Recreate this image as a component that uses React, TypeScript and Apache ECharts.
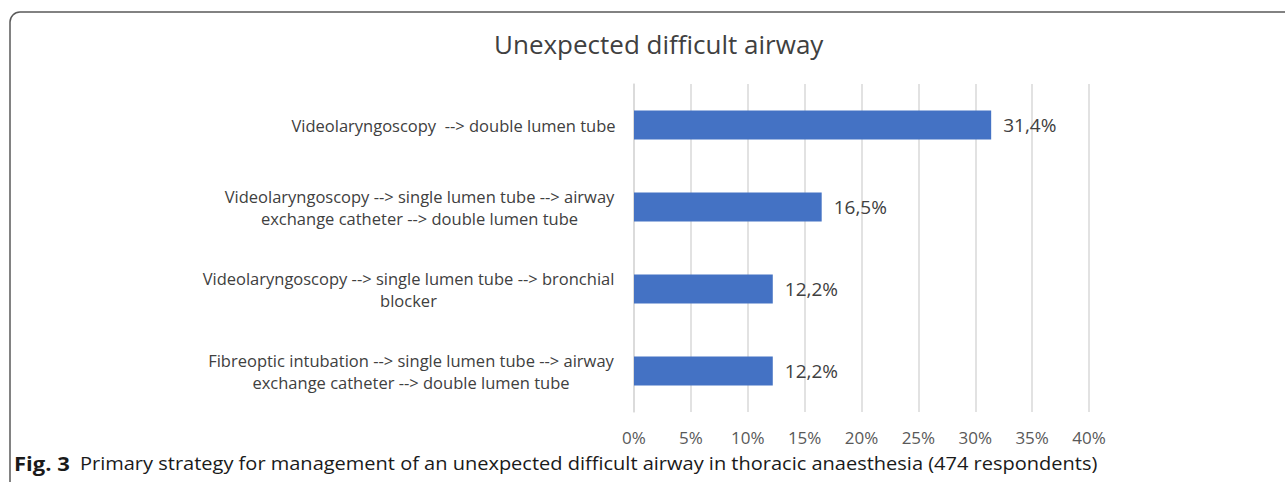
import React, { useEffect, useRef } from "react";
import * as echarts from "echarts";

const categories: string[][] = [
  ["Videolaryngoscopy  --> double lumen tube"],
  ["Videolaryngoscopy --> single lumen tube --> airway", "exchange catheter --> double lumen tube"],
  ["Videolaryngoscopy --> single lumen tube --> bronchial", "blocker"],
  ["Fibreoptic intubation --> single lumen tube --> airway", "exchange catheter --> double lumen tube"],
];
const values: number[] = [31.4, 16.5, 12.2, 12.2];
const labelWidths: number[] = [327, 395, 417, 412];
const titleText = "Unexpected difficult airway";
const captionBold = "Fig. 3";
const captionText = "Primary strategy for management of an unexpected difficult airway in thoracic anaesthesia (474 respondents)";

const FONT = "'Open Sans', 'Noto Sans', sans-serif";

export default function App() {
  const ref = useRef<HTMLDivElement>(null);
  useEffect(() => {
    if (!ref.current) return;
    const chart = echarts.init(ref.current, null, { renderer: "svg" });
    const rich: Record<string, any> = {};
    labelWidths.forEach((w, i) => {
      rich["c" + i] = { width: w, align: "center", fontSize: 16.5, color: "#404040", fontFamily: FONT, lineHeight: 22 };
    });
    chart.setOption({
      animation: false,
      backgroundColor: "#ffffff",
      title: {
        text: titleText,
        left: 489,
        top: 26,
        textStyle: { fontSize: 26, fontWeight: "normal", color: "#404040", fontFamily: FONT },
      },
      grid: { left: 634, right: 196, top: 84, bottom: 70, containLabel: false },
      xAxis: {
        type: "value",
        min: 0,
        max: 40,
        interval: 5,
        axisLine: { show: false },
        axisTick: { show: false },
        splitLine: { show: true, lineStyle: { color: "#d9d9d9", width: 1.5 } },
        axisLabel: {
          formatter: "{value}%",
          fontSize: 17,
          color: "#595959",
          fontFamily: FONT,
          margin: 17,
        },
      },
      yAxis: {
        type: "category",
        inverse: true,
        data: categories.map((c) => c.join("\n")),
        axisLine: { show: true, lineStyle: { color: "#d9d9d9", width: 1.5 } },
        axisTick: { show: false },
        axisLabel: {
          margin: 17,
          align: "right",
          formatter: (_v: string, i: number) =>
            categories[i].map((line) => "{c" + i + "|" + line + "}").join("\n"),
          rich,
        },
      },
      series: [
        {
          type: "bar",
          data: values,
          barWidth: 29,
          itemStyle: { color: "#4472C4" },
          label: {
            show: true,
            position: "right",
            distance: 12,
            fontSize: 19,
            color: "#404040",
            fontFamily: FONT,
            formatter: (p: any) => p.value.toFixed(1).replace(".", ",") + "%",
          },
        },
      ],
      graphic: [
        {
          type: "rect",
          shape: { x: 10, y: 12, width: 1300, height: 520, r: 10 },
          style: { fill: "none", stroke: "#5a5a5a", lineWidth: 1.5 },
          silent: true,
        },
        {
          type: "text",
          x: 14,
          y: 463,
          scaleX: 1.1,
          style: {
            text: captionBold,
            font: "bold 20px 'Open Sans', sans-serif",
            fill: "#1a1a1a",
            textVerticalAlign: "middle",
          },
        },
        {
          type: "text",
          x: 80,
          y: 463,
          scaleX: 1.112,
          style: {
            text: captionText,
            font: "18px 'Open Sans', sans-serif",
            fill: "#1a1a1a",
            textVerticalAlign: "middle",
          },
        },
      ],
    });
    return () => chart.dispose();
  }, []);
  return <div ref={ref} style={{ position: "fixed", left: 0, top: 0, width: 1285, height: 482 }} />;
}
